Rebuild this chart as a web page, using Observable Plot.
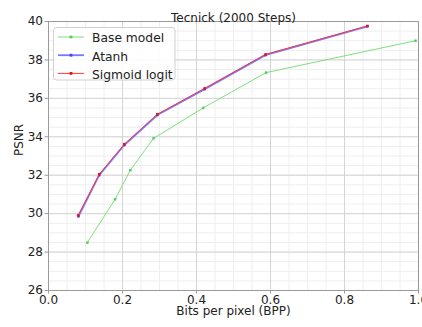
<!DOCTYPE html>
<html>
<head>
<meta charset="utf-8">
<script src="https://cdn.jsdelivr.net/npm/d3@7"></script>
<script src="https://cdn.jsdelivr.net/npm/@observablehq/plot@0.6"></script>
<style>
  html, body { margin: 0; padding: 0; background: #fff; }
  svg { font-family: "DejaVu Sans", sans-serif; }
</style>
</head>
<body>
<div id="chart"></div>
<script>
// ---- data ----
const seriesNames = ["Base model", "Atanh", "Sigmoid logit"];
const bppBase  = [0.105, 0.180, 0.221, 0.284, 0.418, 0.588, 0.992];
const psnrBase = [28.49, 30.75, 32.26, 33.92, 35.50, 37.34, 39.00];
const bppAtanh  = [0.081, 0.137, 0.205, 0.294, 0.422, 0.586, 0.862];
const psnrAtanh = [29.86, 32.00, 33.57, 35.13, 36.48, 38.25, 39.75];
const bppSig  = [0.080, 0.137, 0.205, 0.294, 0.422, 0.587, 0.862];
const psnrSig = [29.91, 32.05, 33.62, 35.17, 36.52, 38.29, 39.77];
const xTicks = [0, 0.2, 0.4, 0.6, 0.8, 1.0];
const yTicks = [26, 28, 30, 32, 34, 36, 38, 40];
const xMinor = d3.range(0, 1.0001, 0.05);
const yMinor = d3.range(26, 40.0001, 0.5);

const colors = {"Base model": "#7ddf7d", "Atanh": "#7777ff", "Sigmoid logit": "#ff3a3a"};
const widths = {"Base model": 1, "Atanh": 1.8, "Sigmoid logit": 1};
const markColors = {"Base model": "#55cc55", "Atanh": "#4444ff", "Sigmoid logit": "#ee1111"};

const mk = (name, xs, ys) => xs.map((x, i) => ({series: name, bpp: x, psnr: ys[i]}));
const base = mk("Base model", bppBase, psnrBase);
const atanh = mk("Atanh", bppAtanh, psnrAtanh);
const sig = mk("Sigmoid logit", bppSig, psnrSig);

function lineAndDots(data, name) {
  return [
    Plot.line(data, {x: "bpp", y: "psnr", stroke: colors[name], strokeWidth: widths[name]}),
    Plot.dot(data, {x: "bpp", y: "psnr", symbol: "square", r: 1.4, fill: markColors[name], stroke: "none"})
  ];
}

const plot = Plot.plot({
  width: 422,
  height: 327,
  marginLeft: 48,
  marginRight: 4,
  marginTop: 21,
  marginBottom: 37,
  style: {fontFamily: "DejaVu Sans, sans-serif", fontSize: "12px", color: "#222", background: "#fff"},
  x: {domain: [0, 1]},
  y: {domain: [26, 40]},
  marks: [
    Plot.ruleX(xMinor, {stroke: "#eeeeee", strokeWidth: 1}),
    Plot.ruleY(yMinor, {stroke: "#eeeeee", strokeWidth: 1}),
    Plot.ruleX(xTicks, {stroke: "#d4d4d4", strokeWidth: 1}),
    Plot.ruleY(yTicks, {stroke: "#d4d4d4", strokeWidth: 1}),
    Plot.frame({stroke: "#9a9a9a", strokeWidth: 1}),
    Plot.axisX({ticks: xTicks, tickFormat: d3.format(".1f"), tickSize: 3.5, tickPadding: 1.5, stroke: "#9a9a9a", fontSize: 12, label: null, fill: "#222"}),
    Plot.axisY({ticks: yTicks, tickFormat: d3.format("d"), tickSize: 3.5, tickPadding: 2, stroke: "#9a9a9a", fontSize: 12, label: null, fill: "#222"}),
    Plot.text(["Bits per pixel (BPP)"], {text: d => d, frameAnchor: "bottom", dy: 24.5, fontSize: 12, fill: "#222"}),
    Plot.text(["PSNR"], {text: d => d, frameAnchor: "left", dx: -29, rotate: -90, fontSize: 12, fill: "#222"}),
    Plot.text(["Tecnick (2000 Steps)"], {text: d => d, frameAnchor: "top", dy: -8.5, fontSize: 12, fill: "#222"}),
    ...lineAndDots(base, "Base model"),
    ...lineAndDots(atanh, "Atanh"),
    ...lineAndDots(sig, "Sigmoid logit")
  ]
});

// ---- legend inside plot ----
const svg = d3.select(plot);
const lg = svg.append("g").attr("font-family", "DejaVu Sans, sans-serif").attr("font-size", 12.3)
  .attr("text-anchor", "start");
lg.append("rect").attr("x", 53.5).attr("y", 27.5).attr("width", 121.5).attr("height", 52.5)
  .attr("rx", 3).attr("fill", "#fff").attr("fill-opacity", 0.85).attr("stroke", "#d0d0d0");
seriesNames.forEach((name, i) => {
  const yy = 37 + i * 18.2;
  lg.append("line").attr("x1", 58).attr("x2", 84).attr("y1", yy).attr("y2", yy)
    .attr("stroke", colors[name]).attr("stroke-width", widths[name]);
  lg.append("rect").attr("x", 69.6).attr("y", yy - 1.4).attr("width", 2.8).attr("height", 2.8)
    .attr("fill", markColors[name]);
  lg.append("text").attr("x", 92).attr("y", yy + 5.4).attr("text-anchor", "start")
    .attr("dominant-baseline", "auto").attr("fill", "#222").text(name);
});

document.getElementById("chart").appendChild(plot);
</script>
</body>
</html>
